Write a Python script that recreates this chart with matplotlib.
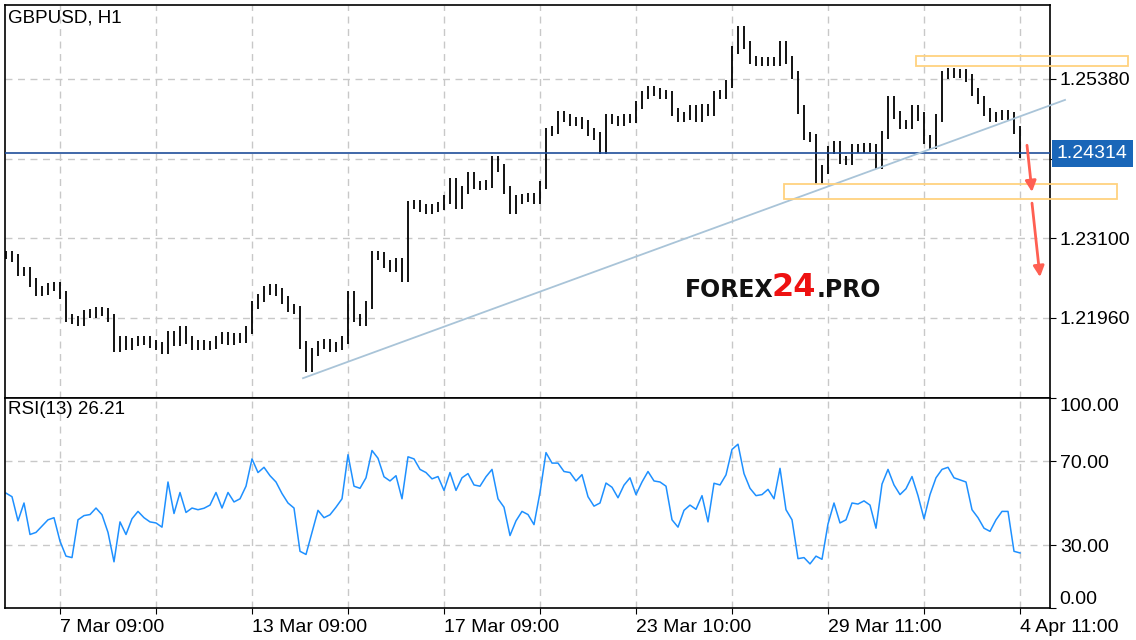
import matplotlib
matplotlib.use("Agg")
import matplotlib.pyplot as plt
from matplotlib.patches import Rectangle

# hourly GBPUSD, one value every 3 bars (close)
close = [1.2286, 1.2281, 1.2261, 1.2263, 1.2246, 1.2233, 1.2235, 1.2240, 1.2241, 1.2228,
         1.2195, 1.2192, 1.2190, 1.2201, 1.2202, 1.2205, 1.2204, 1.2195, 1.2152, 1.2164,
         1.2155, 1.2161, 1.2164, 1.2163, 1.2158, 1.2155, 1.2149, 1.2171, 1.2161, 1.2178,
         1.2164, 1.2155, 1.2158, 1.2156, 1.2157, 1.2164, 1.2169, 1.2163, 1.2168, 1.2166,
         1.2178, 1.2214, 1.2224, 1.2235, 1.2238, 1.2233, 1.2221, 1.2210, 1.2207, 1.2157,
         1.2124, 1.2147, 1.2157, 1.2159, 1.2152, 1.2155, 1.2164, 1.2228, 1.2195, 1.2190,
         1.2214, 1.2286, 1.2284, 1.2273, 1.2267, 1.2276, 1.2253, 1.2357, 1.2358, 1.2353,
         1.2350, 1.2353, 1.2356, 1.2365, 1.2390, 1.2357, 1.2379, 1.2398, 1.2386, 1.2385,
         1.2387, 1.2422, 1.2410, 1.2379, 1.2350, 1.2365, 1.2367, 1.2369, 1.2365, 1.2386,
         1.2462, 1.2465, 1.2486, 1.2482, 1.2476, 1.2477, 1.2473, 1.2462, 1.2456, 1.2436,
         1.2482, 1.2479, 1.2476, 1.2482, 1.2481, 1.2501, 1.2515, 1.2522, 1.2519, 1.2516,
         1.2515, 1.2491, 1.2482, 1.2485, 1.2494, 1.2482, 1.2496, 1.2491, 1.2515, 1.2516,
         1.2531, 1.2580, 1.2608, 1.2587, 1.2565, 1.2562, 1.2563, 1.2564, 1.2562, 1.2587,
         1.2565, 1.2544, 1.2494, 1.2456, 1.2453, 1.2393, 1.2408, 1.2436, 1.2443, 1.2422,
         1.2421, 1.2439, 1.2438, 1.2440, 1.2439, 1.2415, 1.2458, 1.2508, 1.2486, 1.2472,
         1.2473, 1.2494, 1.2484, 1.2451, 1.2443, 1.2482, 1.2544, 1.2548, 1.2545, 1.2547,
         1.2539, 1.2519, 1.2508, 1.2491, 1.2482, 1.2485, 1.2488, 1.2485, 1.2465, 1.24314]

rsi = [54.7, 53.0, 41.5, 50.0, 35.0, 36.0, 39.0, 42.0, 43.0, 31.8,
       24.7, 24.0, 42.0, 44.0, 44.5, 47.6, 44.4, 36.0, 22.0, 41.0,
       35.0, 42.5, 46.0, 43.0, 41.0, 40.5, 38.5, 60.0, 45.0, 55.0,
       45.5, 47.6, 46.8, 47.5, 49.0, 55.0, 47.6, 55.0, 50.5, 52.0,
       58.0, 71.0, 64.5, 67.0, 63.0, 60.0, 54.5, 50.0, 47.6, 27.0,
       25.5, 36.0, 46.5, 43.0, 44.4, 48.0, 52.0, 73.0, 58.0, 57.0,
       62.0, 75.0, 71.3, 62.5, 60.5, 63.0, 52.0, 72.0, 71.0, 66.0,
       64.5, 61.5, 62.6, 56.0, 64.5, 56.0, 62.0, 64.0, 58.6, 58.0,
       62.5, 66.0, 52.0, 48.0, 34.5, 41.5, 46.0, 44.5, 39.7, 55.0,
       74.0, 69.0, 69.0, 65.0, 64.5, 60.5, 63.5, 53.0, 48.5, 50.0,
       59.5, 57.5, 52.5, 58.5, 62.0, 54.0, 60.0, 65.0, 60.5, 60.0,
       58.0, 42.0, 38.5, 46.5, 49.0, 47.0, 53.5, 41.0, 59.4, 58.6,
       63.4, 75.5, 78.0, 64.0, 57.0, 53.5, 54.0, 56.5, 52.0, 66.5,
       46.8, 42.0, 23.5, 24.0, 21.0, 24.7, 23.2, 40.0, 50.0, 40.5,
       42.0, 50.0, 49.5, 51.0, 49.0, 38.0, 59.0, 66.0, 58.6, 54.0,
       56.8, 62.6, 53.5, 42.5, 54.0, 62.0, 66.0, 67.0, 62.0, 61.0,
       60.0, 46.8, 43.0, 38.0, 36.5, 42.0, 46.0, 46.0, 27.0, 26.21]

step = 3
idx = [step * k for k in range(len(close))]

price_ticks = [1.21960, 1.23100, 1.24240, 1.25380]
rsi_ticks = [0, 30, 70, 100]
grid_bars = [27 + 48 * j for j in range(11)]
date_labels = ["7 Mar 09:00", "", "13 Mar 09:00", "", "17 Mar 09:00", "",
               "23 Mar 10:00", "", "29 Mar 11:00", "", "4 Apr 11:00"]
last_price = 1.24314
trend = ([148.5, 529.5], [1.2109, 1.2508])
zones = [(455, 561, 1.2557, 1.2571), (389, 555.5, 1.2366, 1.2387)]
arrows = [((510.5, 1.2443), (513, 1.2376)), ((513, 1.2360), (517, 1.2254))]

plt.rcParams['font.family'] = ['Liberation Sans', 'DejaVu Sans']

W, H = 1136, 640
fig = plt.figure(figsize=(W / 100, H / 100), dpi=100)
ax = fig.add_axes([5 / W, 1 - 398 / H, 1045 / W, 393 / H])
ax2 = fig.add_axes([5 / W, 1 - 608 / H, 1045 / W, 210 / H], sharex=ax)

grid_kw = dict(color='#c8c8c8', lw=1, linestyle=(0, (5, 4)))

# price bars
wick = 0.0006
lo, hi = [], []
for k, c in enumerate(close):
    o = close[k - 1] if k else c
    lo.append(min(o, c) - wick)
    hi.append(max(o, c) + wick)
ax.vlines(idx, lo, hi, color='black', lw=1.3, zorder=3)

ax.set_xlim(-0.5, 522)
ax.set_ylim(1.20806, 1.26441)
ax.yaxis.tick_right()
ax.set_yticks(price_ticks)
ax.set_yticklabels(['%.5f' % p for p in price_ticks])
ax.set_xticks(grid_bars)
ax.tick_params(axis='x', length=0, labelbottom=False)
ax.tick_params(axis='y', direction='out', length=4, labelsize=14, pad=3)
ax.grid(True, **grid_kw)

ax.axhline(last_price, color='#1f4e9a', lw=1.2, zorder=4)
ax.plot(trend[0], trend[1], color='#a9c4d8', lw=1.3, zorder=4, clip_on=False)
for x0, x1, y0, y1 in zones:
    ax.add_patch(Rectangle((x0, y0), x1 - x0, y1 - y0, fill=False,
                           ec='#ffd27f', lw=1.3, zorder=4, clip_on=False))
for (xa, ya), (xb, yb) in arrows:
    ax.annotate('', xy=(xb, yb), xytext=(xa, ya), zorder=5,
                arrowprops=dict(arrowstyle='-|>', color='#ff5f52', lw=2,
                                mutation_scale=16, shrinkA=0, shrinkB=0))

ax.annotate('%.5f' % last_price, xy=(1, last_price),
            xycoords=('axes fraction', 'data'), xytext=(5, 0),
            textcoords='offset points', ha='left', va='center', fontsize=14,
            color='white', annotation_clip=False, zorder=10,
            bbox=dict(boxstyle='square,pad=0.25', fc='#1a66b8', ec='none'))

# RSI panel
ax2.plot(idx, rsi, color='#1e90ff', lw=1.1)
ax2.set_ylim(0, 100)
ax2.yaxis.tick_right()
ax2.set_yticks(rsi_ticks)
ax2.set_yticklabels(['%.2f' % r for r in rsi_ticks])
ax2.tick_params(axis='y', direction='out', length=4, labelsize=14, pad=3)
labs = ax2.get_yticklabels()
labs[0].set_va('bottom')
labs[-1].set_va('top')
ax2.set_xticks(grid_bars)
ax2.set_xticklabels(date_labels, ha='left')
ax2.tick_params(axis='x', direction='out', length=4, labelsize=14, pad=4)
ax2.grid(True, **grid_kw)
for g in ax2.get_ygridlines()[::3]:
    g.set_visible(False)

for a in (ax, ax2):
    for s in a.spines.values():
        s.set_color('black')
        s.set_linewidth(1.2)

fig.text(8 / W, 1 - 18 / H, 'GBPUSD, H1', fontsize=13.5, va='center')
fig.text(8 / W, 1 - 410 / H, 'RSI(13) 26.21', fontsize=13.5, va='center')

# watermark
wm = dict(fontsize=17, fontweight='bold', family='DejaVu Sans', va='center')
fig.text(685 / W, 1 - 290 / H, 'FOREX', color='#111111', **wm)
fig.text(772 / W, 1 - 288 / H, '24', color='#ee1111',
         **{**wm, 'fontsize': 23})
fig.text(817 / W, 1 - 290 / H, '.PRO', color='#111111', **wm)

fig.savefig('out.png', dpi=100, facecolor='white')
